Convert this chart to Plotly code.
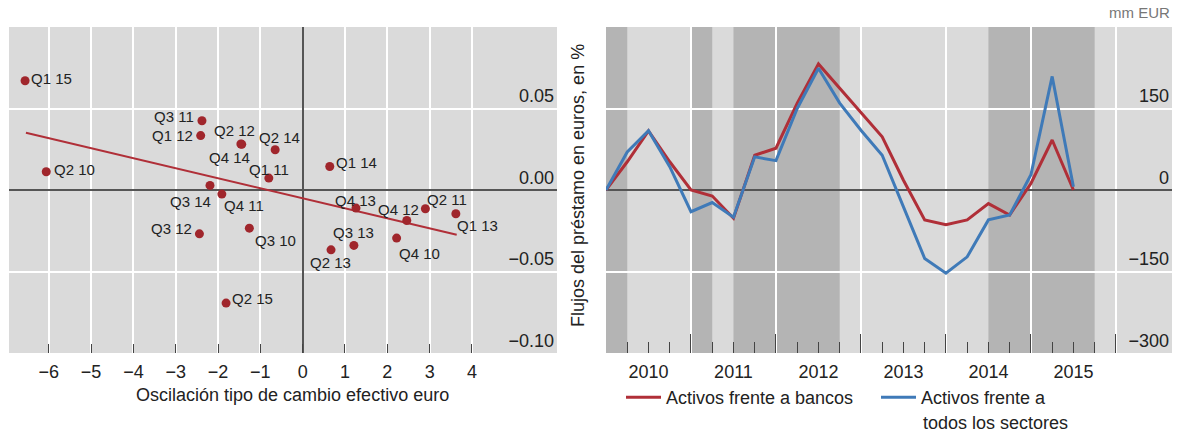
import plotly.graph_objects as go

# ---------------- left panel: exchange-rate swing vs. euro loan flows ----------------
point_labels = ["Q1 15", "Q2 10", "Q3 11", "Q1 12", "Q2 12", "Q4 14", "Q2 14", "Q1 11",
                "Q1 14", "Q3 14", "Q4 11", "Q4 13", "Q4 12", "Q2 11", "Q1 13", "Q3 12",
                "Q3 10", "Q3 13", "Q2 13", "Q4 10", "Q2 15"]
fx_change = [-6.56, -6.06, -2.38, -2.41, -1.46, -1.44, -0.65, -0.80,
             0.64, -2.19, -1.91, 1.26, 2.46, 2.90, 3.62, -2.44,
             -1.26, 1.21, 0.67, 2.22, -1.81]
loan_flows = [0.0670, 0.0112, 0.0425, 0.0334, 0.0282, 0.0280, 0.0247, 0.0073,
              0.0144, 0.0028, -0.0025, -0.0111, -0.0187, -0.0115, -0.0146, -0.0269,
              -0.0234, -0.0340, -0.0367, -0.0295, -0.0694]
trend_x = [-6.54, 3.64]
trend_y = [0.0351, -0.0275]

x1_ticks = [-6, -5, -4, -3, -2, -1, 0, 1, 2, 3, 4]
x1_ticktext = ["\u22126", "\u22125", "\u22124", "\u22123", "\u22122", "\u22121", "0", "1", "2", "3", "4"]
y1_ticks = [-0.10, -0.05, 0.0, 0.05]
y1_ticktext = ["\u22120.10", "\u22120.05", "0.00", "0.05"]

# ---------------- right panel: quarterly flows, bn EUR ----------------
quarter_idx = list(range(23))
vs_banks = [0, 52, 109, 52, 0, -11, -52, 64, 77, 160, 232, 187, 144, 98,
            18, -55, -64, -55, -25, -46, 12, 92, 0]
vs_all_sectors = [0, 70, 109, 43, -40, -23, -50, 61, 54, 150, 224, 160, 110, 64,
                  -31, -126, -153, -123, -55, -46, 28, 209, 6]
shade_start = [0, 4, 6, 18]
shade_end = [1, 5, 11, 23]
year_labels = ["2010", "2011", "2012", "2013", "2014", "2015"]
year_centers = [2, 6, 10, 14, 18, 22]
year_bounds = [4, 8, 12, 16, 20, 24]
quarter_marks = [q for q in range(1, 25) if q % 4 != 0]
y2_ticks = [-300, -150, 0, 150]
y2_ticktext = ["\u2212300", "\u2212150", "0", "150"]

# ---------------- styling ----------------
FONT = "Liberation Sans, Arial, sans-serif"
TEXT = "#222222"
RED = "#b02f38"
DOT = "#a0262c"
BLUE = "#3f7ab8"
BG = "#dadada"
SHADE = "#b4b4b4"
ZERO = "#555555"
W, H = 1177, 432

def px_x(p):
    return p / W

def px_y(p):
    return (H - p) / H

y_dom = [px_y(353), px_y(27)]

fig = go.Figure()

# carrier for the year-label axis (invisible)
fig.add_trace(go.Scatter(x=year_centers, y=[0] * len(year_centers), mode="markers",
                         xaxis="x3", yaxis="y2", marker=dict(opacity=0),
                         showlegend=False, hoverinfo="skip"))

# regression line and scatter points
fig.add_trace(go.Scatter(x=trend_x, y=trend_y, mode="lines", xaxis="x", yaxis="y",
                         line=dict(color=RED, width=2), showlegend=False, hoverinfo="skip"))
fig.add_trace(go.Scatter(x=fx_change, y=loan_flows, mode="markers", xaxis="x", yaxis="y",
                         marker=dict(size=9, color=DOT), text=point_labels,
                         showlegend=False))

# label offsets (pixels) around each point
label_offsets = [(26, 2), (28, 2), (-28, 4), (-28, 0), (-6, 14), (-12, -13), (4, 12), (0, 9),
                 (27, 4), (-20, -16), (22, -11), (-1, 8), (-8, 11), (22, 9), (22, -12), (-28, 5),
                 (26, -12), (0, 13), (-1, -13), (23, -15), (26, 5)]
for lab, xv, yv, (dx, dy) in zip(point_labels, fx_change, loan_flows, label_offsets):
    fig.add_annotation(x=xv, y=yv, xref="x", yref="y", text=lab, showarrow=False,
                       xshift=dx, yshift=dy, xanchor="center", yanchor="middle",
                       font=dict(size=15, color=TEXT, family=FONT))

# quarterly series
fig.add_trace(go.Scatter(x=quarter_idx, y=vs_banks, mode="lines", xaxis="x2", yaxis="y2",
                         name="Activos frente a bancos", legend="legend",
                         line=dict(color=RED, width=3)))
fig.add_trace(go.Scatter(x=quarter_idx, y=vs_all_sectors, mode="lines", xaxis="x2", yaxis="y2",
                         name="Activos frente a", legend="legend2",
                         line=dict(color=BLUE, width=3)))

# shaded periods
for s, e in zip(shade_start, shade_end):
    fig.add_shape(type="rect", xref="x2", yref="y2 domain", x0=s, x1=e, y0=0, y1=1,
                  fillcolor=SHADE, line=dict(width=0), layer="below")

tickfont = dict(size=18, color=TEXT, family=FONT)
legend_font = dict(size=18, color=TEXT, family=FONT)

fig.update_layout(
    width=W, height=H,
    margin=dict(l=0, r=0, t=0, b=0),
    paper_bgcolor="white",
    plot_bgcolor=BG,
    font=dict(family=FONT, color=TEXT),
    xaxis=dict(domain=[px_x(9), px_x(557)], range=[-6.94, 6.01], anchor="y",
               tickmode="array", tickvals=x1_ticks, ticktext=x1_ticktext,
               ticks="inside", ticklen=9, tickwidth=1, tickcolor="#444444",
               ticklabelstandoff=6, automargin=False,
               showgrid=True, gridcolor="white", gridwidth=1.5,
               zeroline=True, zerolinecolor=ZERO, zerolinewidth=2,
               showline=False, tickfont=tickfont, fixedrange=True),
    yaxis=dict(domain=y_dom, range=[-0.10, 0.10], anchor="x", side="right",
               tickmode="array", tickvals=y1_ticks, ticktext=y1_ticktext,
               ticklabelposition="inside top", ticks="", automargin=False,
               showgrid=True, gridcolor="white", gridwidth=1.5,
               zeroline=True, zerolinecolor=ZERO, zerolinewidth=2,
               showline=False, tickfont=tickfont, fixedrange=True),
    xaxis2=dict(domain=[px_x(606), px_x(1172)], range=[0, 26.64], anchor="y2",
                tickmode="array", tickvals=year_bounds, showticklabels=False,
                ticks="inside", ticklen=19, tickwidth=1, tickcolor="#444444",
                minor=dict(tickmode="array", tickvals=quarter_marks, ticks="inside",
                           ticklen=11, tickwidth=1, tickcolor="#444444", showgrid=False),
                showgrid=True, gridcolor="white", gridwidth=1.5, automargin=False,
                zeroline=False, showline=False, fixedrange=True),
    xaxis3=dict(overlaying="x2", range=[0, 26.64], anchor="y2", side="bottom",
                tickmode="array", tickvals=year_centers, ticktext=year_labels,
                ticks="", ticklabelstandoff=6, showgrid=False, zeroline=False,
                showline=False, tickfont=tickfont, fixedrange=True, automargin=False),
    yaxis2=dict(domain=y_dom, range=[-300, 300], anchor="x2", side="right",
                tickmode="array", tickvals=y2_ticks, ticktext=y2_ticktext,
                ticklabelposition="inside top", ticks="", automargin=False,
                showgrid=True, gridcolor="white", gridwidth=1.5,
                zeroline=True, zerolinecolor=ZERO, zerolinewidth=2,
                showline=False, tickfont=tickfont, fixedrange=True),
    legend=dict(x=px_x(621), y=px_y(379), xanchor="left", yanchor="top",
                orientation="h", bgcolor="rgba(0,0,0,0)", itemwidth=35,
                font=legend_font),
    legend2=dict(x=px_x(876), y=px_y(379), xanchor="left", yanchor="top",
                 orientation="h", bgcolor="rgba(0,0,0,0)", itemwidth=35,
                 font=legend_font),
)

# second line of the blue legend entry
fig.add_annotation(x=px_x(921), y=px_y(423), xref="paper", yref="paper",
                   text="todos los sectores", showarrow=False,
                   xanchor="left", yanchor="middle", font=legend_font)

# axis titles and unit note
fig.add_annotation(x=px_x(292), y=px_y(395), xref="paper", yref="paper",
                   text="Oscilación tipo de cambio efectivo euro", showarrow=False,
                   xanchor="center", yanchor="middle", font=tickfont)
fig.add_annotation(x=px_x(578), y=px_y(186), xref="paper", yref="paper",
                   text="Flujos del préstamo en euros, en %", showarrow=False,
                   textangle=-90, xanchor="center", yanchor="middle", font=tickfont)
fig.add_annotation(x=px_x(1172), y=px_y(12), xref="paper", yref="paper",
                   text="mm EUR", showarrow=False, xanchor="right", yanchor="middle",
                   font=dict(size=15, color="#777777", family=FONT))

fig.write_html("out.html")
